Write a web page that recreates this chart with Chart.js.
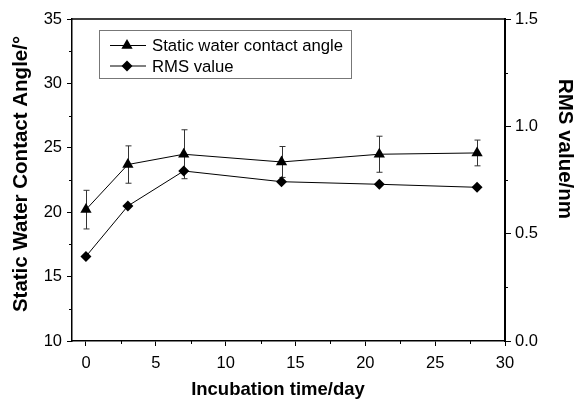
<!DOCTYPE html>
<html lang="en">
<head>
<meta charset="UTF-8">
<title>Contact angle and RMS vs incubation time</title>
<script src="https://cdn.jsdelivr.net/npm/chart.js"></script>
<style>
    body { margin: 0; background: #fff; }
</style>
</head>
<body>
<canvas id="myChart" width="574" height="400"></canvas>
<script>
    // incubation days (x) and the two measured series
    const days = [0, 3, 7, 14, 21, 28];
    const contactAngle = [20.2, 23.7, 24.5, 23.9, 24.5, 24.6];
    const contactAngleErr = [1.5, 1.45, 1.9, 1.2, 1.4, 1.0];
    const rmsValue = [0.394, 0.629, 0.792, 0.742, 0.730, 0.716];

    // tick positions (major get labels, minor are short marks only)
    const xTicks = [0, 5, 10, 15, 20, 25, 30];
    const xMinor = [2.5, 7.5, 12.5, 17.5, 22.5, 27.5];
    const leftTicks = [10, 15, 20, 25, 30, 35];
    const leftMinor = [12.5, 17.5, 22.5, 27.5, 32.5];
    const rightTicks = [0, 0.5, 1.0, 1.5];
    const rightMinor = [0.25, 0.75, 1.25];

    const seriesNames = ['Static water contact angle', 'RMS value'];
    const xTitle = 'Incubation time/day';
    const leftTitle = 'Static Water Contact Angle/°';
    const rightTitle = 'RMS value/nm';

    const tickFont = { family: 'Liberation Sans, Arial', size: 16.5 };

    function toXY(ys) {
        return days.map(function (d, i) { return { x: d, y: ys[i] }; });
    }

    function setTicks(list) {
        return function (scale) {
            scale.ticks = list.map(function (v) { return { value: v }; });
        };
    }

    // triangle / diamond marker, used for the legend
    function marker(ctx, style, x, y, r) {
        ctx.beginPath();
        if (style === 'triangle') {
            ctx.moveTo(x, y - r);
            ctx.lineTo(x + r * 0.866, y + r * 0.5);
            ctx.lineTo(x - r * 0.866, y + r * 0.5);
        } else {
            ctx.moveTo(x, y - r);
            ctx.lineTo(x + r, y);
            ctx.lineTo(x, y + r);
            ctx.lineTo(x - r, y);
        }
        ctx.closePath();
        ctx.fill();
    }

    const extras = {
        id: 'extras',
        beforeDatasetsDraw(chart) {
            // error bars on the contact angle
            const ctx = chart.ctx;
            const xs = chart.scales.x, ys = chart.scales.y;
            ctx.save();
            ctx.strokeStyle = '#333';
            ctx.lineWidth = 1;
            days.forEach(function (d, i) {
                const px = Math.round(xs.getPixelForValue(d)) + 0.5;
                const top = ys.getPixelForValue(contactAngle[i] + contactAngleErr[i]);
                const bot = ys.getPixelForValue(contactAngle[i] - contactAngleErr[i]);
                ctx.beginPath();
                ctx.moveTo(px, top); ctx.lineTo(px, bot);
                ctx.moveTo(px - 3, top); ctx.lineTo(px + 3, top);
                ctx.moveTo(px - 3, bot); ctx.lineTo(px + 3, bot);
                ctx.stroke();
            });
            ctx.restore();
        },
        afterDraw(chart) {
            const ctx = chart.ctx;
            const a = chart.chartArea;
            const xs = chart.scales.x, ys = chart.scales.y, ys1 = chart.scales.y1;
            ctx.save();
            ctx.strokeStyle = '#000';

            // top frame line
            ctx.lineWidth = 1.5;
            ctx.beginPath();
            ctx.moveTo(a.left, a.top);
            ctx.lineTo(a.right, a.top);
            ctx.stroke();

            // minor ticks
            ctx.lineWidth = 1;
            ctx.beginPath();
            xMinor.forEach(function (v) {
                const p = Math.round(xs.getPixelForValue(v)) + 0.5;
                ctx.moveTo(p, a.bottom); ctx.lineTo(p, a.bottom + 3);
            });
            leftMinor.forEach(function (v) {
                const p = Math.round(ys.getPixelForValue(v)) + 0.5;
                ctx.moveTo(a.left, p); ctx.lineTo(a.left - 3, p);
            });
            rightMinor.forEach(function (v) {
                const p = Math.round(ys1.getPixelForValue(v)) + 0.5;
                ctx.moveTo(a.right, p); ctx.lineTo(a.right + 3, p);
            });
            ctx.stroke();

            // legend box
            ctx.strokeStyle = '#777';
            ctx.lineWidth = 1;
            ctx.strokeRect(99.5, 30.5, 252, 48);
            ctx.fillStyle = '#000';
            ctx.strokeStyle = '#000';
            ctx.font = '16.7px Liberation Sans, Arial';
            ctx.textBaseline = 'middle';
            ['triangle', 'diamond'].forEach(function (st, i) {
                const y = 45.5 + i * 20.5;
                ctx.beginPath();
                ctx.moveTo(110, y); ctx.lineTo(146, y);
                ctx.stroke();
                marker(ctx, st, 127, y, st === 'triangle' ? 6.5 : 5.5);
                ctx.fillText(seriesNames[i], 152, y + 1);
            });

            // axis titles
            ctx.font = 'bold 18.5px Liberation Sans, Arial';
            ctx.textAlign = 'center';
            ctx.fillText(xTitle, 278, 390);

            ctx.font = 'bold 20.5px Liberation Sans, Arial';
            ctx.save();
            ctx.translate(21, 174);
            ctx.rotate(-Math.PI / 2);
            ctx.fillText(leftTitle, 0, 0);
            ctx.restore();

            ctx.save();
            ctx.translate(565, 149);
            ctx.rotate(Math.PI / 2);
            ctx.fillText(rightTitle, 0, 0);
            ctx.restore();

            ctx.restore();
        }
    };

    const ctx = document.getElementById('myChart');
    const mychart = new Chart(ctx, {
        type: 'line',
        data: {
            datasets: [{
                label: seriesNames[0],
                data: toXY(contactAngle),
                yAxisID: 'y',
                borderColor: '#000',
                borderWidth: 1,
                backgroundColor: '#000',
                pointStyle: 'triangle',
                pointRadius: 6.5,
                pointBorderWidth: 0,
                tension: 0
            }, {
                label: seriesNames[1],
                data: toXY(rmsValue),
                yAxisID: 'y1',
                borderColor: '#000',
                borderWidth: 1,
                backgroundColor: '#000',
                pointStyle: 'rectRot',
                pointRadius: 5.5,
                pointBorderWidth: 0,
                tension: 0
            }]
        },
        options: {
            responsive: false,
            animation: false,
            layout: { padding: { top: 19, left: 0, right: 0, bottom: 0 } },
            plugins: {
                legend: { display: false },
                tooltip: { enabled: false }
            },
            scales: {
                x: {
                    type: 'linear',
                    min: -1,
                    max: 30,
                    afterBuildTicks: setTicks(xTicks),
                    afterFit: function (s) { s.height = 59; },
                    grid: { drawOnChartArea: false, tickLength: 5, color: '#000' },
                    border: { color: '#000', width: 1.5 },
                    ticks: { color: '#000', font: tickFont, padding: 8, maxRotation: 0 }
                },
                y: {
                    position: 'left',
                    min: 10,
                    max: 35,
                    afterBuildTicks: setTicks(leftTicks),
                    afterFit: function (s) { s.width = 72; },
                    grid: { drawOnChartArea: false, tickLength: 5, color: '#000' },
                    border: { color: '#000', width: 1.5 },
                    ticks: { color: '#000', font: tickFont, padding: 5 }
                },
                y1: {
                    position: 'right',
                    min: 0,
                    max: 1.5,
                    afterBuildTicks: setTicks(rightTicks),
                    afterFit: function (s) { s.width = 69; },
                    grid: { drawOnChartArea: false, tickLength: 6, color: '#000' },
                    border: { color: '#000', width: 2 },
                    ticks: {
                        color: '#000', font: tickFont, padding: 4,
                        callback: function (v) { return Number(v).toFixed(1); }
                    }
                }
            }
        },
        plugins: [extras]
    });
</script>
</body>
</html>
